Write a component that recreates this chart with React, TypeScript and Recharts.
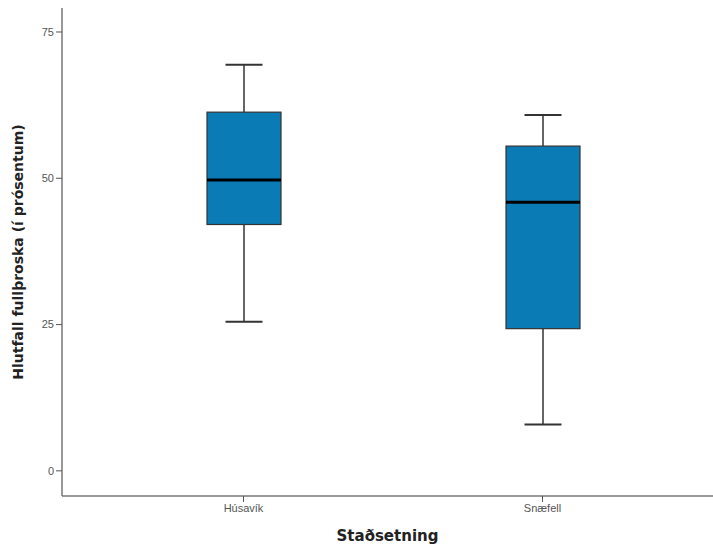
import React from "react";
import { ComposedChart, Bar, XAxis, YAxis } from "recharts";

const locations = ["Húsavík", "Snæfell"];
const mins = [25.5, 7.9];
const q1s = [42.1, 24.3];
const medians = [49.7, 45.9];
const q3s = [61.3, 55.5];
const maxs = [69.4, 60.8];
const yTicks = [0, 25, 50, 75];

const data = locations.map((name, i) => ({
  name,
  min: mins[i],
  q1: q1s[i],
  median: medians[i],
  q3: q3s[i],
  max: maxs[i],
}));

const BOX_FILL = "#0b7bb5";
const LINE = "#333333";

function BoxShape(props: any) {
  const { x, y, width, height, payload } = props;
  const top = Math.min(y, y + height);
  const h = Math.abs(height);
  const { min, q1, median, q3, max } = payload;
  // linear map from value to pixel using the bar's own q1..q3 extent
  const pix = (v: number) => top + ((q3 - v) / (q3 - q1)) * h;
  const cx = x + width / 2;
  const capHalf = width / 4;
  return (
    <g>
      <line x1={cx} x2={cx} y1={pix(max)} y2={top} stroke={LINE} strokeWidth={1.5} />
      <line x1={cx} x2={cx} y1={top + h} y2={pix(min)} stroke={LINE} strokeWidth={1.5} />
      <line x1={cx - capHalf} x2={cx + capHalf} y1={pix(max)} y2={pix(max)} stroke={LINE} strokeWidth={2} />
      <line x1={cx - capHalf} x2={cx + capHalf} y1={pix(min)} y2={pix(min)} stroke={LINE} strokeWidth={2} />
      <rect x={x} y={top} width={width} height={h} fill={BOX_FILL} stroke={LINE} strokeWidth={1.2} />
      <line x1={x} x2={x + width} y1={pix(median)} y2={pix(median)} stroke="#000" strokeWidth={3} />
    </g>
  );
}

export default function App() {
  return (
    <div style={{ position: "absolute", left: 0, top: 0, background: "#fff", fontFamily: "Liberation Sans, Arial, sans-serif" }}>
      <ComposedChart
        width={713}
        height={546}
        data={data}
        margin={{ top: 8, right: 0, bottom: 0, left: 0 }}
      >
        <XAxis
          dataKey="name"
          type="category"
          padding={{ left: 32, right: 21 }}
          height={50}
          tickSize={6}
          tickLine={{ stroke: "#555" }}
          axisLine={{ stroke: "#777", strokeWidth: 1.5 }}
          tick={{ fill: "#555", fontSize: 11, fontFamily: "Liberation Sans, Arial" }}
          label={{
            value: "Staðsetning",
            position: "insideBottom",
            offset: 5,
            style: { fill: "#222", fontSize: 15, fontWeight: "bold", fontFamily: "DejaVu Sans, Verdana" },
          }}
        />
        <YAxis
          type="number"
          domain={[-4.3, 79.1]}
          ticks={yTicks}
          width={62}
          tickSize={6}
          tickLine={{ stroke: "#555" }}
          axisLine={{ stroke: "#777", strokeWidth: 1.5 }}
          tick={{ fill: "#555", fontSize: 11, fontFamily: "Liberation Sans, Arial" }}
          label={{
            value: "Hlutfall fullþroska (í prósentum)",
            angle: -90,
            position: "insideLeft",
            offset: 18,
            style: { textAnchor: "middle", fill: "#222", fontSize: 14, fontWeight: "bold", fontFamily: "DejaVu Sans, Verdana" },
          }}
        />
        <Bar
          dataKey={(d: any) => [d.q1, d.q3]}
          barSize={74}
          shape={<BoxShape />}
          isAnimationActive={false}
        />
      </ComposedChart>
    </div>
  );
}
